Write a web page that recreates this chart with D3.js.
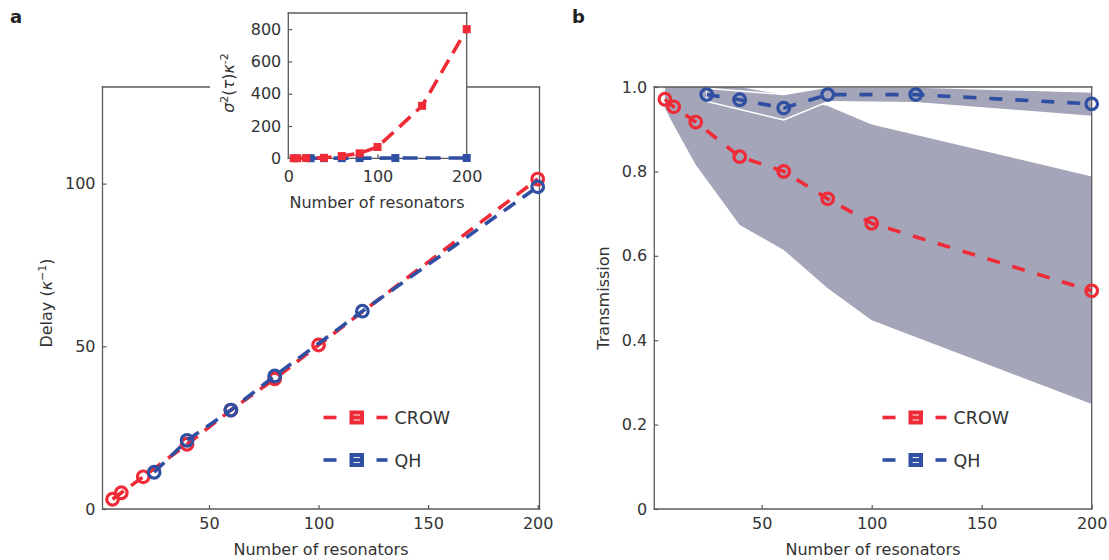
<!DOCTYPE html>
<html><head><meta charset="utf-8">
<script src="https://cdn.jsdelivr.net/npm/d3@7"></script>
<style>
html,body{margin:0;padding:0;background:#fff;}
svg text{font-family:"DejaVu Sans",sans-serif;fill:#333;}
</style></head>
<body><svg id="c" width="1109" height="560"></svg>
<script>
// ---------- data ----------
const nCrow = [6, 10, 20, 40, 60, 80, 100, 200];
const delayCrow = [3.0, 5.0, 9.9, 19.9, 30.4, 40.0, 50.4, 101.4];
const nQh = [25, 40, 60, 80, 120, 200];
const delayQh = [11.3, 21.1, 30.4, 40.9, 60.8, 99.0];

const nVarCrow = [6, 10, 20, 40, 60, 80, 100, 150, 200];
const varCrow = [0.3, 0.6, 1.5, 3, 14, 31, 70, 325, 800];
const nVarQh = [25, 40, 60, 80, 120, 200];
const varQh = [0.5, 0.8, 1, 1.2, 1.5, 2];

const transCrow = [0.971, 0.953, 0.917, 0.835, 0.800, 0.735, 0.677, 0.517];
const transQh = [0.982, 0.970, 0.950, 0.982, 0.982, 0.960];

const bandCrowN = [6, 10, 20, 40, 60, 80, 100, 200];
const bandCrowHi = [1, 1, 1, 1, 0.981, 0.955, 0.911, 0.788];
const bandCrowLo = [0.95, 0.91, 0.816, 0.673, 0.614, 0.523, 0.447, 0.249];
const bandQhN = [25, 60, 80, 120, 200];
const bandQhHi = [0.997, 0.982, 1, 1, 0.988];
const bandQhLo = [0.966, 0.922, 0.965, 0.963, 0.930];

const xTicks = [50, 100, 150, 200];
const delayTicks = [0, 50, 100];
const transTicks = [0, 0.2, 0.4, 0.6, 0.8, 1.0];
const insetXTicks = [0, 100, 200];
const insetYTicks = [0, 200, 400, 600, 800];
const seriesNames = ["CROW", "QH"];

// ---------- style ----------
const RED = "#ee2b36", BLUE = "#2f4fa3", GRAY = "#a4a5b9", AX = "#5a5a5a";
const svg = d3.select("#c");

function zip(a, b) { return a.map((v, i) => [v, b[i]]); }

function frame(g, x0, x1, y0, y1, sides) {
  sides.forEach(s => {
    let c;
    if (s === "l") c = [x0, y0, x0, y1];
    if (s === "r") c = [x1, y0, x1, y1];
    if (s === "t") c = [x0, y0, x1, y0];
    if (s === "b") c = [x0, y1, x1, y1];
    g.append("line").attr("x1", c[0]).attr("y1", c[1]).attr("x2", c[2]).attr("y2", c[3])
      .attr("stroke", AX).attr("stroke-width", 1.3).attr("stroke-linecap", "square");
  });
}

function styleAxis(sel, fs) {
  sel.select(".domain").remove();
  sel.selectAll(".tick line").attr("stroke", AX).attr("stroke-width", 1.2);
  sel.selectAll(".tick text").style("font-size", fs + "px").style("fill", "#333")
    .style("font-family", '"DejaVu Sans",sans-serif');
}

function circles(g, x, y, ns, vs, color) {
  g.selectAll(null).data(zip(ns, vs)).enter().append("circle")
    .attr("cx", d => x(d[0])).attr("cy", d => y(d[1])).attr("r", 5.8)
    .attr("fill", "none").attr("stroke", color).attr("stroke-width", 3.2);
}
function dashed(g, x, y, ns, vs, color, dash) {
  g.append("path").datum(zip(ns, vs))
    .attr("d", d3.line().x(d => x(d[0])).y(d => y(d[1])))
    .attr("fill", "none").attr("stroke", color).attr("stroke-width", 3.6)
    .attr("stroke-dasharray", dash);
}

function legend(g, x, yc, color, label) {
  g.append("line").attr("x1", x).attr("x2", x + 13).attr("y1", yc).attr("y2", yc)
    .attr("stroke", color).attr("stroke-width", 3.6);
  g.append("rect").attr("x", x + 26).attr("y", yc - 7).attr("width", 14.5).attr("height", 14)
    .attr("fill", color);
  [-2.5, 2.5].forEach(o => g.append("line").attr("x1", x + 30).attr("x2", x + 36.5)
    .attr("y1", yc + o).attr("y2", yc + o).attr("stroke", "#fff").attr("stroke-width", 1.1).attr("opacity", 0.85));
  g.append("line").attr("x1", x + 53).attr("x2", x + 64).attr("y1", yc).attr("y2", yc)
    .attr("stroke", color).attr("stroke-width", 3.6);
  g.append("text").attr("x", x + 71).attr("y", yc + 6.5).style("font-size", "17.5px").text(label);
}

// ---------- panel a ----------
const ga = svg.append("g");
const xA = d3.scaleLinear().domain([0, 200]).range([99.4, 537.7]);
const yA = d3.scaleLinear().domain([0, 130]).range([509, 86]);
const aL = 102.5, aR = 539.5, aT = 87, aB = 509;
frame(ga, aL, aR, aT, aB, ["l", "b", "r", "t"]);
ga.append("g").attr("transform", `translate(0,${aB})`)
  .call(d3.axisBottom(xA).tickValues(xTicks).tickSize(-4).tickPadding(9).tickFormat(d3.format("d")))
  .call(s => styleAxis(s, 16));
ga.append("g").attr("transform", `translate(${aL},0)`)
  .call(d3.axisLeft(yA).tickValues(delayTicks).tickSize(-4).tickPadding(7).tickFormat(d3.format("d")))
  .call(s => styleAxis(s, 16));

dashed(ga, xA, yA, nCrow, delayCrow, RED, "14 9");
circles(ga, xA, yA, nCrow, delayCrow, RED);
dashed(ga, xA, yA, nQh, delayQh, BLUE, "14 9");
circles(ga, xA, yA, nQh, delayQh, BLUE);

ga.append("text").attr("x", 321).attr("y", 555).attr("text-anchor", "middle")
  .style("font-size", "16px").text("Number of resonators");
const dl = ga.append("text").attr("transform", "translate(52,303) rotate(-90)")
  .attr("text-anchor", "middle").style("font-size", "16px");
dl.append("tspan").text("Delay (");
dl.append("tspan").style("font-style", "italic").text("κ");
dl.append("tspan").attr("dy", -6).style("font-size", "11px").text("−1");
dl.append("tspan").attr("dy", 6).text(")");

legend(ga, 323.5, 417.5, RED, seriesNames[0]);
legend(ga, 323.5, 460, BLUE, seriesNames[1]);

svg.append("text").attr("x", 10).attr("y", 23).style("font-size", "18px")
  .style("font-weight", "bold").style("fill", "#222").text("a");

// ---------- inset ----------
const gi = svg.append("g");
gi.append("rect").attr("x", 210).attr("y", 0).attr("width", 257).attr("height", 216).attr("fill", "#fff");
const xI = d3.scaleLinear().domain([0, 200]).range([288.3, 466.7]);
const yI = d3.scaleLinear().domain([0, 900]).range([158.3, 13]);
frame(gi, 288.3, 466.7, 13, 158.3, ["l", "b", "r", "t"]);
gi.append("g").attr("transform", "translate(0,158.3)")
  .call(d3.axisBottom(xI).tickValues(insetXTicks).tickSize(-4).tickPadding(12).tickFormat(d3.format("d")))
  .call(s => styleAxis(s, 16));
gi.append("g").attr("transform", "translate(288.3,0)")
  .call(d3.axisLeft(yI).tickValues(insetYTicks).tickSize(-4).tickPadding(7).tickFormat(d3.format("d")))
  .call(s => styleAxis(s, 16));
gi.selectAll(".tick").filter(d => d === 0).selectAll("line").remove();

function squares(g, ns, vs, color) {
  g.append("path").datum(zip(ns, vs))
    .attr("d", d3.line().x(d => xI(d[0])).y(d => yI(d[1])))
    .attr("fill", "none").attr("stroke", color).attr("stroke-width", 3.6).attr("stroke-dasharray", "15 8");
  g.selectAll(null).data(zip(ns, vs)).enter().append("rect")
    .attr("x", d => xI(d[0]) - 4).attr("y", d => yI(d[1]) - 4).attr("width", 8).attr("height", 8)
    .attr("fill", color);
}
squares(gi, nVarQh, varQh, BLUE);
squares(gi, nVarCrow, varCrow, RED);

gi.append("text").attr("x", 377).attr("y", 208).attr("text-anchor", "middle")
  .style("font-size", "16px").text("Number of resonators");
const il = gi.append("text").attr("transform", "translate(234,83) rotate(-90)")
  .attr("text-anchor", "middle").style("font-size", "16px");
il.append("tspan").style("font-style", "italic").text("σ");
il.append("tspan").attr("dy", -6).style("font-size", "11px").text("2");
il.append("tspan").attr("dy", 6).text("(");
il.append("tspan").style("font-style", "italic").text("τ");
il.append("tspan").text(")");
il.append("tspan").style("font-style", "italic").text("κ");
il.append("tspan").attr("dy", -6).style("font-size", "11px").text("-2");

// ---------- panel b ----------
const gb = svg.append("g");
const xB = d3.scaleLinear().domain([0, 200]).range([651.7, 1091.7]);
const yB = d3.scaleLinear().domain([0, 1]).range([509, 87]);
const bL = 654.3, bR = 1091.7, bT = 87, bB = 509;

const area = d3.area().x(d => xB(d[0])).y0(d => yB(d[1])).y1(d => yB(d[2]));
gb.append("path").datum(bandCrowN.map((n, i) => [n, bandCrowLo[i], bandCrowHi[i]]))
  .attr("d", area).attr("fill", GRAY);
gb.append("path").datum(bandQhN.map((n, i) => [n, bandQhLo[i], bandQhHi[i]]))
  .attr("d", area).attr("fill", GRAY).attr("stroke", "#fff").attr("stroke-width", 1.4);

frame(gb, bL, bR, bT, bB, ["l", "b", "r", "t"]);
gb.append("g").attr("transform", `translate(0,${bB})`)
  .call(d3.axisBottom(xB).tickValues(xTicks).tickSize(-4).tickPadding(9).tickFormat(d3.format("d")))
  .call(s => styleAxis(s, 16));
gb.append("g").attr("transform", `translate(${bL},0)`)
  .call(d3.axisLeft(yB).tickValues(transTicks).tickSize(-4).tickPadding(7)
    .tickFormat(d => d === 0 ? "0" : d3.format(".1f")(d)))
  .call(s => styleAxis(s, 16));

dashed(gb, xB, yB, nCrow, transCrow, RED, "13 13");
circles(gb, xB, yB, nCrow, transCrow, RED);
dashed(gb, xB, yB, nQh, transQh, BLUE, "13 13");
circles(gb, xB, yB, nQh, transQh, BLUE);

gb.append("text").attr("x", 873).attr("y", 555).attr("text-anchor", "middle")
  .style("font-size", "16px").text("Number of resonators");
gb.append("text").attr("transform", "translate(609,298) rotate(-90)")
  .attr("text-anchor", "middle").style("font-size", "16px").text("Transmission");

legend(gb, 882.5, 417.5, RED, seriesNames[0]);
legend(gb, 882.5, 460, BLUE, seriesNames[1]);

svg.append("text").attr("x", 572).attr("y", 23).style("font-size", "18px")
  .style("font-weight", "bold").style("fill", "#222").text("b");
</script></body></html>
